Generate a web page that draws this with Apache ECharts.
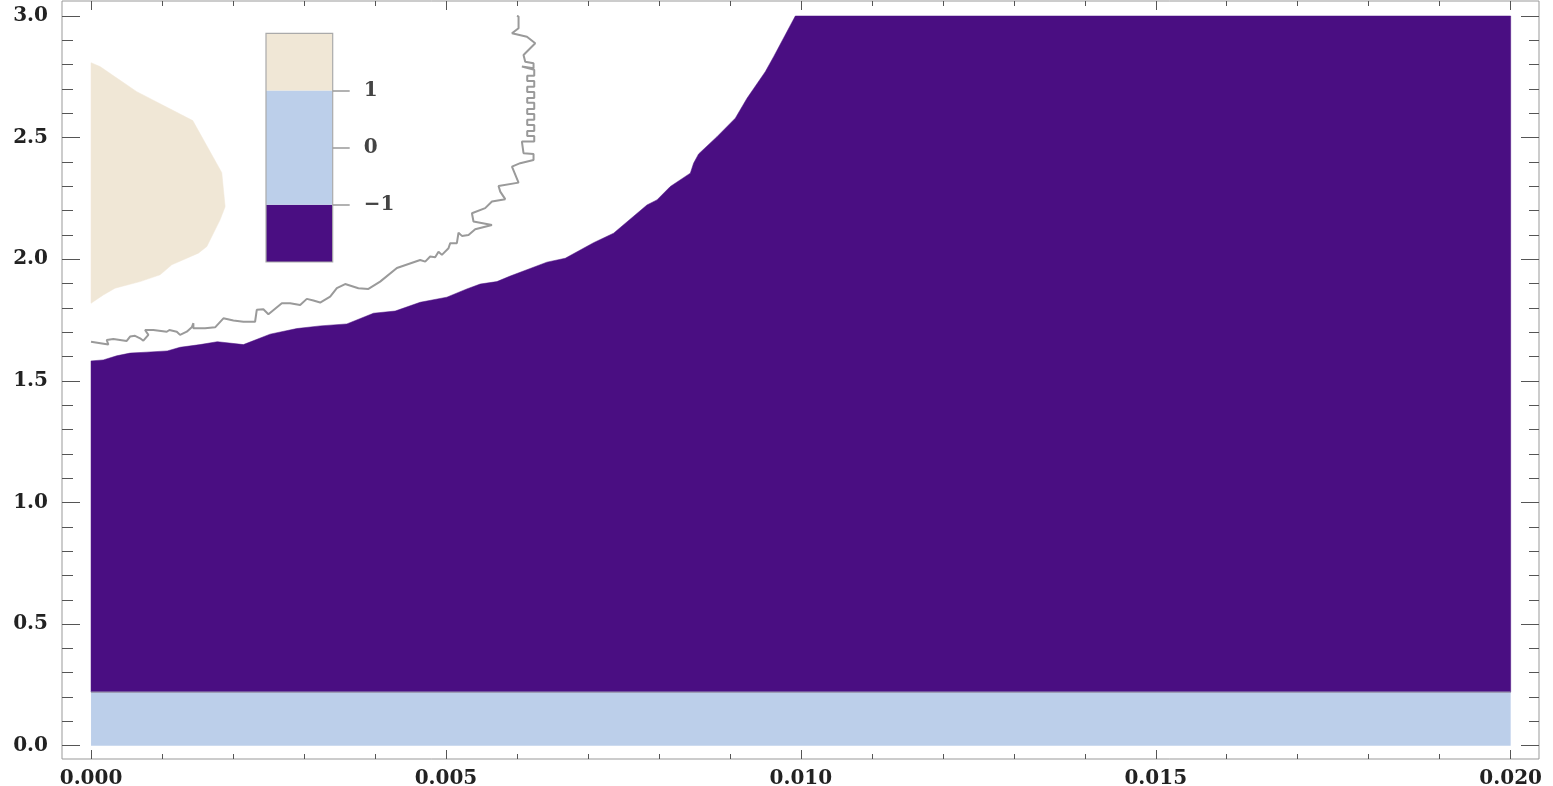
<!DOCTYPE html>
<html><head><meta charset="utf-8">
<script src="https://cdn.jsdelivr.net/npm/echarts@6/dist/echarts.min.js"></script>
<style>html,body{margin:0;padding:0;background:#fff;overflow:hidden}#c{width:1553px;height:786px}</style>
</head><body><div id="c"></div>
<script>
// ---- data ----
const xTickValues = [0, 0.005, 0.010, 0.015, 0.020];
const xTickLabels = ['0.000', '0.005', '0.010', '0.015', '0.020'];
const xMinorTickValues = [0.001,0.002,0.003,0.004,0.006,0.007,0.008,0.009,0.011,0.012,0.013,0.014,0.016,0.017,0.018,0.019];
const yTickValues = [0, 0.5, 1.0, 1.5, 2.0, 2.5, 3.0];
const yTickLabels = ['0.0', '0.5', '1.0', '1.5', '2.0', '2.5', '3.0'];
const yMinorTickValues = [0.1,0.2,0.3,0.4,0.6,0.7,0.8,0.9,1.1,1.2,1.3,1.4,1.6,1.7,1.8,1.9,2.1,2.2,2.3,2.4,2.6,2.7,2.8,2.9];
const legendTickValues = [-1, 0, 1];
const legendTickLabels = ['\u22121', '0', '1'];
const legendBands = [[-2, -1], [-1, 1], [1, 2]]; // regions of value -1, 0, 1
const bandTop = 0.22; // top of the value-0 region
const xMax = 0.02, yMax = 3.0;

// upper boundary of the value -1 region
const purpleTop = [
[0,1.582],[0.000173,1.586],[0.000362,1.603],[0.000550,1.614],[0.000785,1.618],[0.001075,1.623],
[0.001254,1.638],[0.001536,1.649],[0.001780,1.661],[0.002147,1.649],[0.002523,1.692],[0.002899,1.715],
[0.003228,1.726],[0.003604,1.734],[0.003979,1.778],[0.004285,1.787],[0.004637,1.823],[0.005013,1.844],
[0.005295,1.878],[0.005483,1.898],[0.005718,1.908],[0.005906,1.931],[0.006423,1.988],[0.006681,2.004],
[0.007080,2.068],[0.007362,2.107],[0.007832,2.223],[0.007973,2.244],[0.008161,2.299],[0.008443,2.354],
[0.008489,2.395],[0.008560,2.433],[0.008819,2.504],[0.009077,2.580],[0.009242,2.662],[0.009499,2.771],
[0.009617,2.833],[0.009922,3.000],[0.020,3.000]
];

// value 1 region
const beigeRegion = [
[0,2.808],[0.000127,2.792],[0.000644,2.689],[0.001433,2.570],[0.001842,2.356],[0.001889,2.216],
[0.001818,2.162],[0.001631,2.052],[0.001512,2.025],[0.001137,1.977],[0.000973,1.936],[0.000691,1.908],
[0.000338,1.881],[0.000173,1.853],[0,1.819]
];

// gray contour line
const contour = [
[0,1.661],[0.000244,1.649],[0.000221,1.668],[0.000314,1.672],[0.000503,1.664],[0.000550,1.682],[0.000620,1.685],
[0.000691,1.675],[0.000737,1.665],[0.000808,1.689],[0.000761,1.709],[0.000878,1.709],[0.001067,1.702],[0.001104,1.709],
[0.001208,1.702],[0.001254,1.689],[0.001349,1.702],[0.001419,1.720],[0.001442,1.737],[0.001442,1.716],[0.001607,1.716],
[0.001748,1.720],[0.001865,1.757],[0.002006,1.748],[0.002147,1.743],[0.002311,1.743],[0.002335,1.792],[0.002428,1.794],
[0.002499,1.774],[0.002688,1.819],[0.002805,1.819],[0.002946,1.812],[0.003040,1.837],[0.003133,1.830],[0.003228,1.822],
[0.003369,1.846],[0.003463,1.881],[0.003580,1.898],[0.003767,1.881],[0.003908,1.878],[0.004073,1.908],[0.004309,1.964],
[0.004637,1.997],[0.004708,1.990],[0.004778,2.011],[0.004848,2.008],[0.004895,2.031],[0.004943,2.018],[0.005036,2.045],
[0.005060,2.066],[0.005154,2.066],[0.005177,2.109],[0.005225,2.096],[0.005318,2.100],[0.005412,2.123],[0.005648,2.141],
[0.005388,2.155],[0.005366,2.189],[0.005553,2.210],[0.005648,2.237],[0.005835,2.247],[0.005765,2.278],[0.005741,2.301],
[0.006023,2.315],[0.005930,2.381],[0.006046,2.395],[0.006234,2.408],[0.006234,2.433],[0.006093,2.436],[0.006070,2.484],
[0.006244,2.484],[0.006244,2.507],[0.006145,2.507],[0.006145,2.527],[0.006244,2.527],[0.006244,2.552],[0.006145,2.552],
[0.006145,2.573],[0.006244,2.573],[0.006244,2.597],[0.006145,2.597],[0.006145,2.618],[0.006244,2.618],[0.006244,2.643],
[0.006145,2.643],[0.006145,2.663],[0.006244,2.663],[0.006244,2.688],[0.006145,2.688],[0.006145,2.709],[0.006244,2.709],
[0.006244,2.733],[0.006145,2.733],[0.006145,2.754],[0.006244,2.754],[0.006244,2.779],[0.006070,2.792],[0.006234,2.785],
[0.006234,2.806],[0.006117,2.812],[0.006093,2.840],[0.006258,2.888],[0.006141,2.915],[0.005930,2.929],[0.006023,2.950],
[0.006023,2.998],[0.006000,3.000]
];

// ---- axis padding (frame lies a little outside the data range) ----
const xAxisMin = -0.000409, xAxisMax = 0.020399;
const yAxisMin = -0.0547, yAxisMax = 3.0617;

// ---- styles ----
const C_PURPLE = '#4a0e82', C_BLUE = '#bccfea', C_BEIGE = '#f0e7d6';
const bandColors = [C_PURPLE, C_BLUE, C_BEIGE];
const FONT = 'DejaVu Serif';
const TICK = '#555';

const chart = echarts.init(document.getElementById('c'), null, {renderer: 'canvas'});

function polyItem(points, fill, api) {
  return {
    type: 'polygon',
    shape: {points: points.map(p => api.coord(p))},
    style: {fill: fill, stroke: fill, lineWidth: 0.5}
  };
}

function tickAxis(dir, position, values, len, labels) {
  const isX = dir === 'x';
  const ax = {
    gridIndex: 0, type: 'value', position: position,
    min: isX ? xAxisMin : yAxisMin, max: isX ? xAxisMax : yAxisMax,
    axisLine: {show: false, onZero: false}, splitLine: {show: false}, minorTick: {show: false},
    axisTick: {show: true, inside: true, length: len, customValues: values, lineStyle: {color: TICK, width: 1}},
    axisLabel: {show: false}, z: 10
  };
  if (labels) {
    ax.axisLabel = {show: true, margin: isX ? 10 : 14, color: '#222', fontFamily: FONT, fontWeight: 'bold', fontSize: 20,
      customValues: values, formatter: v => labels[values.indexOf(v)]};
  }
  return ax;
}

const option = {
  animation: false,
  backgroundColor: '#fff',
  grid: [
    {left: 62, right: 14, top: 1, bottom: 27, show: true, borderColor: '#999', borderWidth: 1,
     backgroundColor: 'transparent', containLabel: false, outerBoundsMode: 'none'},
    {left: 266, width: 66.7, top: 33.3, height: 228.7, containLabel: false, outerBoundsMode: 'none'}
  ],
  xAxis: [
    tickAxis('x', 'bottom', xTickValues, 9, xTickLabels),
    tickAxis('x', 'bottom', xMinorTickValues, 5, null),
    tickAxis('x', 'top', xTickValues, 9, null),
    tickAxis('x', 'top', xMinorTickValues, 5, null),
    {gridIndex: 1, type: 'value', min: 0, max: 1, show: false, axisLine: {onZero: false}}
  ],
  yAxis: [
    tickAxis('y', 'left', yTickValues, 18, yTickLabels),
    tickAxis('y', 'left', yMinorTickValues, 11, null),
    tickAxis('y', 'right', yTickValues, 18, null),
    tickAxis('y', 'right', yMinorTickValues, 10, null),
    {gridIndex: 1, type: 'value', min: -2, max: 2, position: 'right',
     axisLine: {show: false, onZero: false}, splitLine: {show: false}, z: 10,
     axisTick: {show: true, inside: false, length: 17, customValues: legendTickValues, lineStyle: {color: '#999', width: 1.5}},
     axisLabel: {show: true, margin: 31, align: 'left', color: '#444', fontFamily: FONT, fontWeight: 'bold', fontSize: 20,
       customValues: legendTickValues, formatter: v => legendTickLabels[legendTickValues.indexOf(v)]}}
  ],
  series: [
    {
      type: 'custom', name: 'minus1', xAxisIndex: 0, yAxisIndex: 0, z: 2,
      data: [[0, 0]],
      renderItem: (params, api) => polyItem(purpleTop.concat([[xMax, bandTop], [0, bandTop]]), C_PURPLE, api)
    },
    {
      type: 'custom', name: 'zero', xAxisIndex: 0, yAxisIndex: 0, z: 3,
      data: [[0, 0]],
      renderItem: (params, api) => {
        const a = api.coord([0, bandTop]), b = api.coord([xMax, 0]), c = api.coord([xMax, bandTop]);
        return {type: 'group', children: [
          {type: 'rect', shape: {x: a[0], y: a[1], width: b[0] - a[0], height: b[1] - a[1]}, style: {fill: C_BLUE}},
          {type: 'line', shape: {x1: a[0], y1: a[1], x2: c[0], y2: c[1]}, style: {stroke: '#9c9cb4', lineWidth: 1.5}}
        ]};
      }
    },
    {
      type: 'custom', name: 'one', xAxisIndex: 0, yAxisIndex: 0, z: 3,
      data: [[0, 0]],
      renderItem: (params, api) => polyItem(beigeRegion, C_BEIGE, api)
    },
    {
      type: 'line', name: 'contour', xAxisIndex: 0, yAxisIndex: 0, z: 4,
      data: contour, showSymbol: false, symbol: 'none', smooth: false,
      lineStyle: {color: '#9a9a9a', width: 2}
    },
    {
      type: 'custom', name: 'legendbar', xAxisIndex: 4, yAxisIndex: 4, z: 5,
      data: legendBands.map((b, i) => [b[0], b[1], i]),
      renderItem: (params, api) => {
        const lo = api.value(0), hi = api.value(1), idx = api.value(2);
        const p0 = api.coord([0, hi]), p1 = api.coord([1, lo]);
        return {type: 'rect', shape: {x: p0[0], y: p0[1], width: p1[0] - p0[0], height: p1[1] - p0[1]},
                style: {fill: bandColors[idx]}};
      }
    },
    {
      type: 'custom', name: 'legendframe', xAxisIndex: 4, yAxisIndex: 4, z: 6,
      data: [[0, 0]],
      renderItem: (params, api) => {
        const p0 = api.coord([0, 2]), p1 = api.coord([1, -2]);
        return {type: 'rect', shape: {x: p0[0], y: p0[1], width: p1[0] - p0[0], height: p1[1] - p0[1]},
                style: {fill: 'none', stroke: '#aaa', lineWidth: 1.2}};
      }
    }
  ]
};
chart.setOption(option);
</script>
</body></html>
